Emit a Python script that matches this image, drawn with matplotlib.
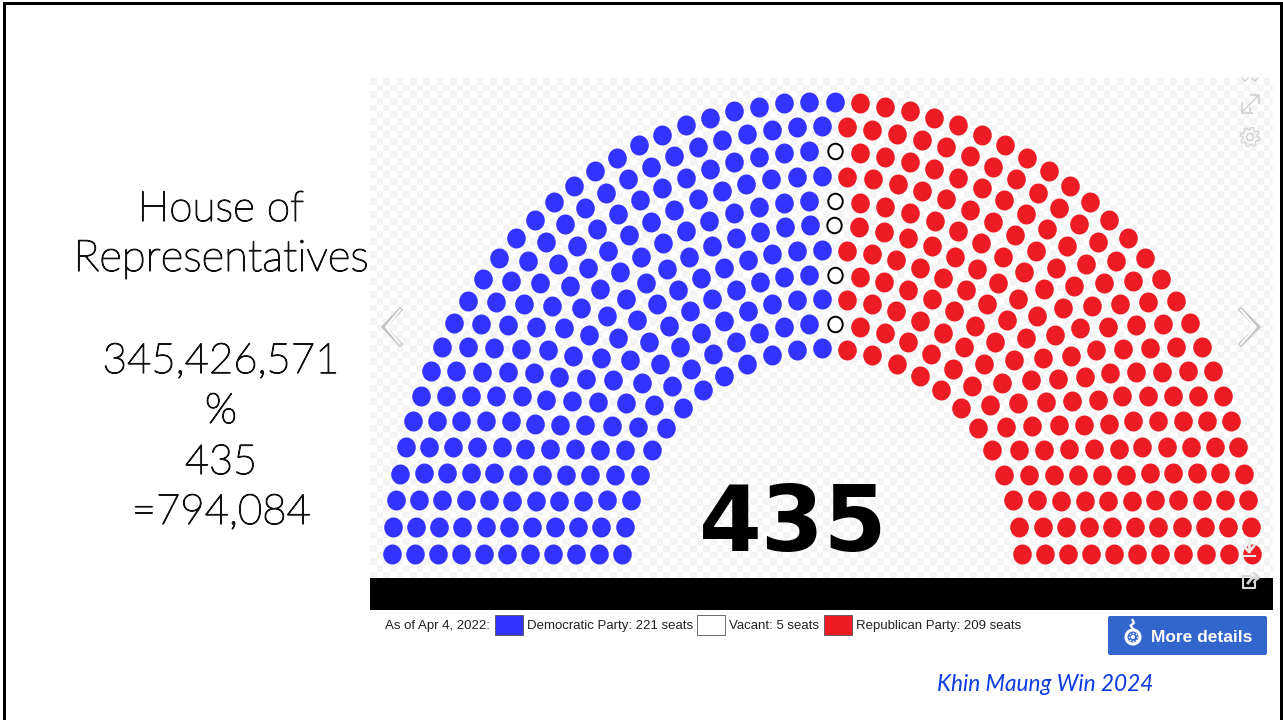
import numpy as np
import matplotlib
matplotlib.use("Agg")
import matplotlib.pyplot as plt
import matplotlib.patheffects as pe
from matplotlib.patches import Rectangle, FancyBboxPatch, Circle
from matplotlib.path import Path
from matplotlib.transforms import Affine2D

# seats in each row, inner row first
row_seats = [25, 28, 31, 34, 37, 40, 42, 45, 48, 51, 54]
party_names = ["Democratic Party", "Vacant", "Republican Party"]
party_seats = [221, 5, 209]
party_colors = ["#3333ff", "#ffffff", "#ed1c24"]
as_of_label = "As of Apr 4, 2022:"
total_seats = 435
left_lines = ["House of", "Representatives", "345,426,571", "%", "435", "=794,084"]
left_baselines = [221, 271, 373, 423, 474, 524]
left_sizes = [30.4, 31.5, 30.2, 30.2, 29.8, 30.2]
credit = "Khin Maung Win 2024"

# pixel geometry of the diagram (picture is slightly taller than wide)
CX, CY = 822, 562.8
X_UNIT, Y_UNIT = 23.0, 24.66
INNER_RADIUS = 8.7
BOTTOM_LIFT = 8.8
DOT_W, DOT_H = 18.6, 20.0


def seat_positions():
    xs, ys, angles = [], [], []
    for i, n in enumerate(row_seats):
        r = INNER_RADIUS + i
        # first and last seat of a row sit on the same baseline
        lift = np.arcsin(BOTTOM_LIFT / (Y_UNIT * r))
        theta = np.pi - lift - np.arange(n) * (np.pi - 2 * lift) / (n - 1)
        xs.append(CX + X_UNIT * r * np.cos(theta))
        ys.append(CY - Y_UNIT * r * np.sin(theta))
        angles.append(theta)
    xs, ys, angles = map(np.concatenate, (xs, ys, angles))
    # seats go to the parties from left to right
    order = np.argsort(-angles, kind="stable")
    return xs[order], ys[order]


fig = plt.figure(figsize=(12.83, 7.2), dpi=100, facecolor="white")
ax = fig.add_axes([0, 0, 1, 1])

# transparent-background checkerboard behind the diagram
sq = 20 / 3
nx, ny = int(903 / sq) + 1, int(500 / sq) + 1
board = np.indices((ny, nx)).sum(axis=0) % 2
board_rgb = np.where(board[..., None] == 0, 0.96, 1.0) * np.ones((ny, nx, 3))
ax.imshow(board_rgb, extent=(370, 370 + nx * sq, 78 + ny * sq, 78),
          interpolation="nearest", aspect="auto", zorder=0)
ax.add_patch(Rectangle((1273, 70), 10, 520, fc="white", ec="none", zorder=1))
ax.add_patch(Rectangle((370, 578), 903, 32, fc="black", ec="none", zorder=2))

# seats
x, y = seat_positions()
ellipse = Path.unit_circle().transformed(Affine2D().scale(DOT_W / DOT_H, 1))
start = 0
for name, count, color in zip(party_names, party_seats, party_colors):
    px, py = x[start:start + count], y[start:start + count]
    if name == "Vacant":
        ax.scatter(px, py, s=(15.5 * 0.72) ** 2, marker=ellipse, facecolor=color,
                   edgecolor="black", linewidth=1.4, zorder=3)
    else:
        ax.scatter(px, py, s=(DOT_H * 0.72) ** 2, marker=ellipse, color=color,
                   linewidth=0, zorder=3)
    start += count

ax.text(793, 551, str(total_seats), ha="center", va="baseline", fontsize=65,
        family="DejaVu Sans", fontweight="bold", color="black", zorder=4)

# left hand slide text
thicker = [pe.withStroke(linewidth=0.9, foreground="#111111")]
for line, base, size in zip(left_lines, left_baselines, left_sizes):
    ax.text(221, base, line, ha="center", va="baseline", fontsize=size,
            family="Lato", fontweight="light", color="#111111", path_effects=thicker)

# legend row
sans = "Liberation Sans"
ax.text(385, 629, as_of_label, fontsize=9.5, family=sans, color="#222222")
swatch_x = [495, 697, 824]
label_x = [527, 729, 856]
for sx, lx, name, count, color in zip(swatch_x, label_x, party_names, party_seats, party_colors):
    ax.add_patch(Rectangle((sx, 615), 28, 20, fc=color, ec="#555555", lw=0.6, zorder=3))
    ax.text(lx, 629, f"{name}: {count} seats", fontsize=9.5, family=sans, color="#222222")

# more details button
ax.add_patch(FancyBboxPatch((1109, 617), 157, 37, boxstyle="round,pad=1,rounding_size=2",
                            fc="#3366cc", ec="none"))
ax.text(1151, 642, "More details", fontsize=12.5, family=sans, fontweight="bold", color="white")
ax.add_patch(Circle((1133, 637), 7, fc="none", ec="white", lw=2.2))
ax.add_patch(Circle((1133, 637), 2, fc="white", ec="none"))
wheel = np.linspace(0, 2 * np.pi, 9)[:-1]
ax.scatter(1133 + 4.2 * np.cos(wheel), 637 + 4.2 * np.sin(wheel), s=1.5, color="white", linewidth=0)
ax.plot([1133, 1130.5, 1134, 1132.5], [629, 625.5, 623, 620], color="white", lw=1.6)

ax.text(937, 691, credit, fontsize=16.3, family="Lato", style="italic", color="#0b3be0")

# faint viewer controls
ctl = "#d2d2d2"
ax.plot([400, 384, 400], [310, 327, 344], color="#c4c4c4", lw=3.2, solid_joinstyle="miter", zorder=5)
ax.plot([400, 386, 400], [310, 327, 344], color="white", lw=1.4, zorder=5)
ax.plot([1241, 1258, 1241], [310, 327, 344], color="#c4c4c4", lw=3.2, solid_joinstyle="miter", zorder=5)
ax.plot([1241, 1256, 1241], [310, 327, 344], color="white", lw=1.4, zorder=5)

ax.plot([1242, 1258], [112, 96], color=ctl, lw=1.2, zorder=5)
ax.plot([1242, 1242, 1252, 1250, 1250], [103, 113, 113, 113, 108], color=ctl, lw=1.2, zorder=5)
ax.plot([1251, 1259, 1259], [95, 95, 103], color=ctl, lw=1.2, zorder=5)
ax.add_patch(Circle((1250, 137), 3.5, fc="none", ec=ctl, lw=1.2, zorder=5))
gear = np.linspace(0, 2 * np.pi, 49)
gear_r = 8.5 + 1.2 * np.sign(np.sin(8 * gear))
ax.plot(1250 + gear_r * np.cos(gear), 137 + gear_r * np.sin(gear), color=ctl, lw=1, zorder=5)
ax.plot([1242, 1245, 1248], [78, 81, 78], color=ctl, lw=1, zorder=5)
ax.plot([1252, 1255, 1258], [78, 81, 78], color=ctl, lw=1, zorder=5)

# download and share icons over the last seat and the black bar
ax.plot([1249, 1249], [538, 551], color="#e8e8e8", lw=2, zorder=5)
ax.plot([1244, 1249, 1254], [546, 552, 546], color="#e8e8e8", lw=2, zorder=5)
ax.plot([1243, 1255], [555.5, 555.5], color="#e8e8e8", lw=1.5, zorder=5)
ax.plot([1255, 1255, 1243, 1243, 1250], [582, 588, 588, 576, 576], color="#d8d8d8", lw=1.5, zorder=5)
ax.plot([1248, 1252, 1258], [583, 578, 578], color="#d8d8d8", lw=2, zorder=5)
ax.plot([1254, 1259, 1254], [573, 577, 582], color="#d8d8d8", lw=1.5, zorder=5)

# slide frame, open at the bottom
ax.add_patch(Rectangle((3, 2), 1280, 3, fc="black", ec="none", zorder=6))
ax.add_patch(Rectangle((3, 2), 3, 718, fc="black", ec="none", zorder=6))
ax.add_patch(Rectangle((1280, 2), 3, 718, fc="black", ec="none", zorder=6))

ax.set_xlim(0, 1283)
ax.set_ylim(720, 0)
ax.axis("off")
fig.savefig("out.png", dpi=100)
